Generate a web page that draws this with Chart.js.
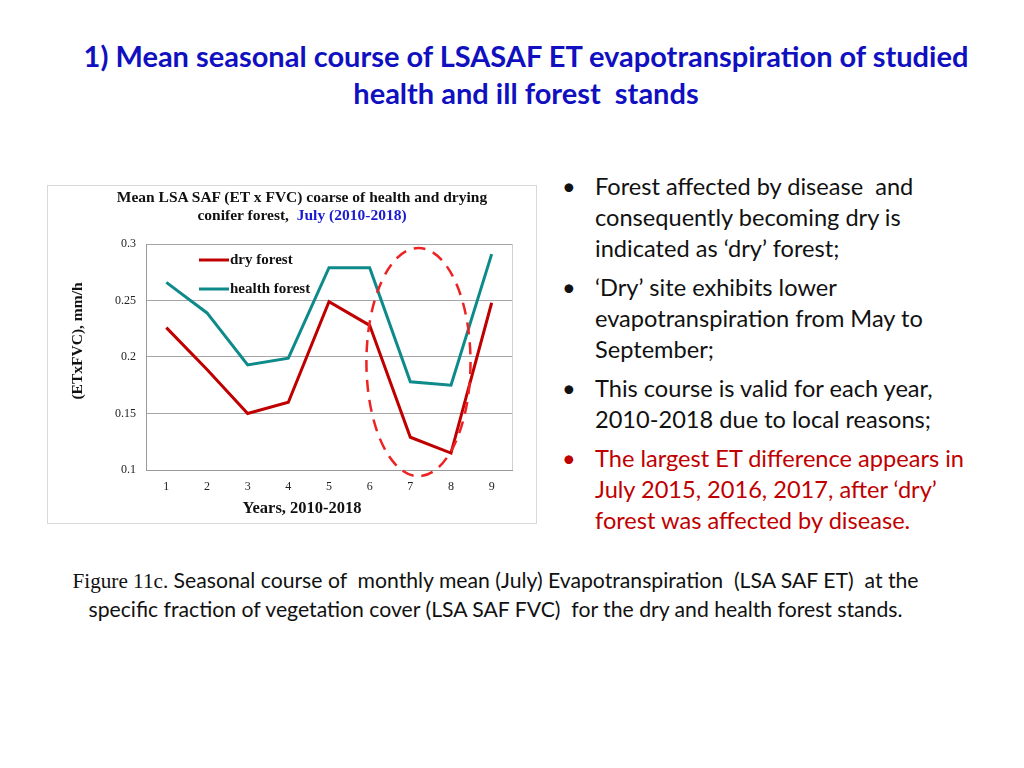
<!DOCTYPE html>
<html>
<head>
<meta charset="utf-8">
<script src="https://cdn.jsdelivr.net/npm/chart.js@4.4.1/dist/chart.umd.min.js"></script>
<style>
  body { margin: 0; width: 1024px; height: 768px; background: #fff; position: relative; overflow: hidden; font-family: Lato, "Open Sans", sans-serif; }
  .abs { position: absolute; white-space: nowrap; }
  #title { left: 0; width: 1052px; top: 37px; text-align: center; color: #1010C0; font-weight: bold; font-size: 29px; line-height: 37px; }
  #box { left: 47px; top: 185px; width: 488px; height: 337px; border: 1px solid #d9d9d9; }
  #ctitle { left: 47px; width: 510px; top: 188px; text-align: center; font-family: "Liberation Serif", "Times New Roman", serif; font-weight: bold; font-size: 15.5px; line-height: 18px; color: #111; }
  #ctitle .blue { color: #1a1ad0; }
  #wrap { left: 47px; top: 185px; width: 489px; height: 338px; }
  .bul { left: 562px; font-size: 23.6px; line-height: 31px; color: #111; }
  .bul .dot { position: absolute; left: 0; }
  .bul .txt { position: absolute; left: 33px; }
  .red { color: #C00000; }
  #cap { left: 0; width: 991px; top: 566px; text-align: center; font-size: 21.2px; line-height: 28px; color: #111; }
  #cap .tnr { font-family: "Liberation Serif", "Times New Roman", serif; }
</style>
</head>
<body>
<div id="title" class="abs">1) Mean seasonal course of LSASAF ET evapotranspiration of studied<br>health and ill forest&nbsp; stands</div>

<div id="box" class="abs"></div>
<div id="wrap" class="abs"><canvas id="chart" width="489" height="338"></canvas></div>
<div id="ctitle" class="abs">Mean LSA SAF (ET x FVC) coarse of health and drying<br>conifer forest,&nbsp; <span class="blue">July (2010-2018)</span></div>

<div class="abs bul" style="top:171px"><span class="dot">•</span><span class="txt">Forest affected by disease&nbsp; and<br>consequently becoming dry is<br>indicated as ‘dry’ forest;</span></div>
<div class="abs bul" style="top:272px"><span class="dot">•</span><span class="txt">‘Dry’ site exhibits lower<br>evapotranspiration from May to<br>September;</span></div>
<div class="abs bul" style="top:373px"><span class="dot">•</span><span class="txt">This course is valid for each year,<br>2010-2018 due to local reasons;</span></div>
<div class="abs bul red" style="top:443px"><span class="dot">•</span><span class="txt">The largest ET difference appears in<br>July 2015, 2016, 2017, after ‘dry’<br>forest was affected by disease.</span></div>

<div id="cap" class="abs"><span class="tnr">Figure 11c.</span> Seasonal course of&nbsp; monthly mean (July) Evapotranspiration&nbsp; (LSA SAF ET)&nbsp; at the<br>specific fraction of vegetation cover (LSA SAF FVC)&nbsp; for the dry and health forest stands.</div>

<script>
// years 2010-2018 numbered 1..9
const years = ['1', '2', '3', '4', '5', '6', '7', '8', '9'];
const dryForest = [0.226, 0.189, 0.150, 0.160, 0.249, 0.228, 0.129, 0.115, 0.248];
const healthForest = [0.266, 0.239, 0.193, 0.199, 0.279, 0.279, 0.178, 0.175, 0.291];
const yTicks = [0.1, 0.15, 0.2, 0.25, 0.3];
const xTitle = 'Years, 2010-2018';
const yTitle = '(ETxFVC), mm/h';

const serif = '"Liberation Serif", "Times New Roman", serif';

// legend inside plot, dashed ellipse around years 7-8, axis titles, plot frame
const extras = {
  id: 'extras',
  beforeDatasetsDraw(chart) {
    const { ctx, chartArea: a } = chart;
    ctx.save();
    ctx.strokeStyle = '#d0d0d0';
    ctx.lineWidth = 1;
    ctx.beginPath();
    ctx.moveTo(a.right + 0.5, a.top);
    ctx.lineTo(a.right + 0.5, a.bottom);
    ctx.stroke();
    ctx.restore();
  },
  afterDatasetsDraw(chart) {
    const { ctx, chartArea: a, scales } = chart;
    ctx.save();
    // legend
    ctx.font = 'bold 15px ' + serif;
    ctx.textBaseline = 'middle';
    chart.data.datasets.forEach((ds, i) => {
      const y = a.top + 16 + i * 29;
      ctx.strokeStyle = ds.borderColor;
      ctx.lineWidth = 3;
      ctx.beginPath();
      ctx.moveTo(a.left + 53, y);
      ctx.lineTo(a.left + 83, y);
      ctx.stroke();
      ctx.fillStyle = '#111';
      ctx.fillText(ds.label, a.left + 84, y);
    });
    // axis titles
    ctx.textAlign = 'center';
    ctx.font = 'bold 16.5px ' + serif;
    ctx.fillText(xTitle, 255, 324);
    ctx.font = 'bold 15.5px ' + serif;
    ctx.save();
    ctx.translate(31, 156);
    ctx.rotate(-Math.PI / 2);
    ctx.fillText(yTitle, 0, 0);
    ctx.restore();
    // ellipse
    const x6 = scales.x.getPixelForValue(6), x7 = scales.x.getPixelForValue(7);
    const cx = x6 + (x7 - x6) * 0.2;
    const cy = scales.y.getPixelForValue(0.1955);
    const rx = (x7 - x6) * 1.28;
    const ry = scales.y.getPixelForValue(0.1) - scales.y.getPixelForValue(0.2);
    ctx.strokeStyle = '#ee2222';
    ctx.lineWidth = 2.5;
    ctx.setLineDash([12, 8]);
    ctx.beginPath();
    ctx.ellipse(cx, cy, rx, ry * 1.01, 0, 0, Math.PI * 2);
    ctx.stroke();
    ctx.restore();
  }
};

new Chart(document.getElementById('chart'), {
  type: 'line',
  data: {
    labels: years,
    datasets: [
      { label: 'dry forest', data: dryForest, borderColor: '#C00000', borderWidth: 3, pointRadius: 0, tension: 0 },
      { label: 'health forest', data: healthForest, borderColor: '#0E8A8A', borderWidth: 3, pointRadius: 0, tension: 0 }
    ]
  },
  options: {
    responsive: false,
    animation: false,
    layout: { padding: { top: 59, right: 24, left: 0, bottom: 0 } },
    plugins: { legend: { display: false }, tooltip: { enabled: false } },
    scales: {
      x: {
        offset: true,
        grid: { display: false },
        border: { color: '#9a9a9a' },
        ticks: { color: '#222', font: { family: serif, size: 12 }, padding: 2 },
        afterFit(s) { s.height = 53; }
      },
      y: {
        min: 0.1, max: 0.3,
        afterBuildTicks(s) { s.ticks = yTicks.map(v => ({ value: v })); },
        grid: { color: '#a6a6a6', drawTicks: false },
        border: { color: '#9a9a9a' },
        ticks: { color: '#222', font: { family: serif, size: 12 }, padding: 10, callback: v => String(v) },
        afterFit(s) { s.width = 99; }
      }
    }
  },
  plugins: [extras]
});
</script>
</body>
</html>
